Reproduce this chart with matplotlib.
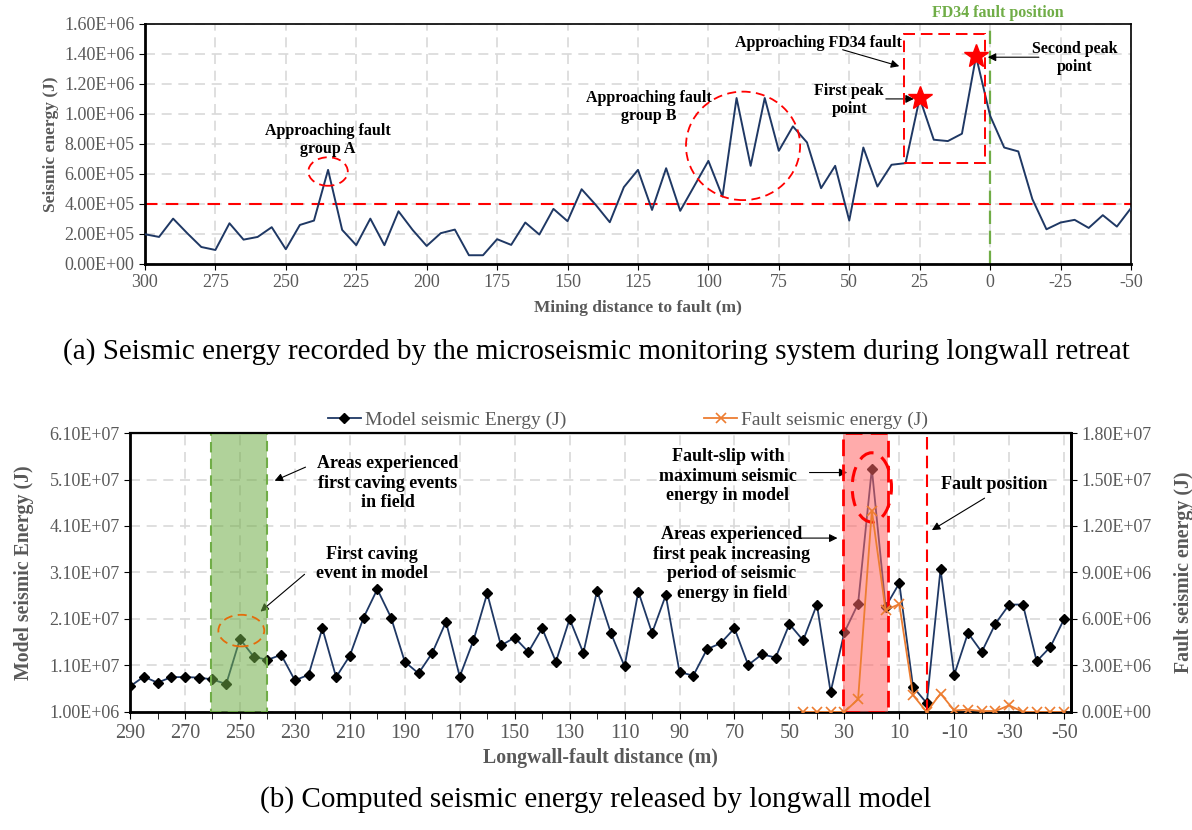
import numpy as np
import matplotlib.pyplot as plt
from matplotlib.patches import Ellipse, Rectangle
from matplotlib.ticker import FuncFormatter
from matplotlib.lines import Line2D

plt.rcParams['font.family'] = ['Liberation Serif', 'DejaVu Serif']

GRAY = '#595959'
NAVY = '#1F3864'
ORANGE = '#ED7D31'
GREEN = '#70AD47'
RED = '#FF0000'
GRID = '#D9D9D9'

# (a) microseismic energy, every 5 m from 300 m to -50 m
field_dist = np.arange(300, -51, -5)
field_energy = np.array([
    198, 180, 302, 205, 113, 93, 271, 162, 180, 245,
    98, 260, 289, 627, 227, 125, 302, 125, 351, 227,
    120, 205, 229, 58, 58, 165, 127, 276, 196, 367,
    285, 498, 394, 278, 512, 627, 360, 638, 354, 520,
    687, 449, 1106, 654, 1106, 754, 917, 810, 505, 654,
    289, 776, 516, 661, 672, 1106, 828, 819, 868, 1384,
    988, 776, 750, 432, 231, 276, 294, 240, 325, 249,
    372]) * 1e3
peak_dist = [25, 5]
peak_energy = [1106e3, 1384e3]

# (b) model energy, every 5 m from 290 m to -50 m
model_dist = np.arange(290, -51, -5)
model_energy = np.array([
    6.5, 8.6, 7.3, 8.5, 8.5, 8.4, 8.0, 7.0, 16.7, 12.9,
    12.2, 13.3, 7.8, 9.0, 19.0, 8.5, 13.1, 21.3, 27.4, 21.3,
    11.8, 9.3, 13.7, 20.4, 8.6, 16.4, 26.5, 15.3, 17.0, 13.9,
    19.0, 11.8, 21.0, 13.7, 27.1, 18.0, 10.8, 26.9, 18.0, 26.1,
    9.6, 8.8, 14.5, 15.8, 19.0, 11.1, 13.4, 12.7, 19.9, 16.4,
    24.1, 5.3, 18.1, 24.3, 53.3, 23.6, 28.7, 6.4, 2.9, 31.7,
    9.0, 18.0, 13.9, 20.0, 24.1, 24.1, 11.9, 15.0, 21.0]) * 1e6
fault_dist = np.arange(45, -51, -5)
fault_energy = np.array([
    0, 0, 0, 0, 0.82, 13.0, 6.57, 6.96, 1.08, 0,
    1.19, 0.10, 0.15, 0.06, 0.06, 0.43, 0, 0, 0, 0]) * 1e6

sci = FuncFormatter(lambda v, p: f'{v:.2E}')


def style_axes(ax):
    for s in ['left', 'bottom']:
        ax.spines[s].set_linewidth(2)
    for s in ['top', 'right']:
        ax.spines[s].set_linewidth(1.2)
    ax.tick_params(colors='black', labelcolor=GRAY, direction='out', length=4)
    ax.grid(True, color=GRID, linestyle=(0, (6, 4)), linewidth=1.2)
    ax.set_axisbelow(True)


fig = plt.figure(figsize=(11.92, 8.3), dpi=100)

# ---------------- (a) ----------------
ax1 = fig.add_axes([0.1216, 0.682, 0.8272, 0.2892])
style_axes(ax1)
ax1.plot(field_dist, field_energy, color=NAVY, lw=1.4, zorder=3)
ax1.plot(peak_dist, peak_energy, '*', color=RED, ms=18, zorder=4)
ax1.axhline(4e5, color=RED, lw=1.5, ls=(0, (6, 4)), zorder=2)
ax1.plot([0, 0], [0, 1.6e6], color=GREEN, lw=1.6, ls=(0, (6, 3)), zorder=2)
ax1.add_patch(Rectangle((30.5, 6.7e5), -28.7, 8.6e5, fill=False, ec=RED,
                        lw=1.4, ls=(0, (6, 3)), zorder=4))
ax1.add_patch(Ellipse((235, 6.16e5), 14, 1.9e5, fill=False, ec=RED,
                      lw=1.3, ls=(0, (5, 3)), zorder=4))
ax1.add_patch(Ellipse((87.7, 7.87e5), 40.5, 7.23e5, fill=False, ec=RED,
                      lw=1.3, ls=(0, (5, 3)), zorder=4))
ax1.set_xlim(300, -50)
ax1.set_ylim(0, 1.6e6)
ax1.set_xticks(np.arange(300, -51, -25))
ax1.set_xticklabels([str(v) for v in np.arange(300, -51, -25)])
ax1.set_yticks(np.arange(0, 1.61e6, 2e5))
ax1.yaxis.set_major_formatter(sci)
ax1.tick_params(labelsize=13)
ax1.set_xlabel('Mining distance to fault (m)', fontsize=12.5, fontweight='bold',
               color=GRAY, labelpad=6)
ax1.set_ylabel('Seismic energy (J)', fontsize=12.5, fontweight='bold',
               color=GRAY, labelpad=4)

bold = dict(fontweight='bold', fontsize=11.5, ha='center', va='center')
ax1.text(235, 8.27e5, 'Approaching fault\ngroup A', **bold)
ax1.text(121, 1.047e6, 'Approaching fault\ngroup B', **bold)
ax1.text(61, 1.473e6, 'Approaching FD34 fault', **bold)
ax1.text(50, 1.093e6, 'First peak\npoint', **bold)
ax1.text(-30, 1.373e6, 'Second peak\npoint', **bold)
ax1.text(-2.9, 1.671e6, 'FD34 fault position', color=GREEN, clip_on=False, **bold)
arr = dict(arrowstyle='-|>', color='black', lw=0.8, mutation_scale=12)
ax1.annotate('', xy=(31.3, 1.313e6), xytext=(53.3, 1.433e6), arrowprops=arr)
ax1.annotate('', xy=(26.1, 1.10e6), xytext=(38, 1.10e6), arrowprops=arr)
ax1.annotate('', xy=(1.8, 1.378e6), xytext=(-18.3, 1.378e6), arrowprops=arr)

fig.text(0.5, 1 - 352 / 830, '(a) Seismic energy recorded by the microseismic monitoring '
         'system during longwall retreat', ha='center', va='center', fontsize=21)

# ---------------- (b) ----------------
ax = fig.add_axes([0.1091, 0.1422, 0.7894, 0.3361])
style_axes(ax)
ax.spines['right'].set_linewidth(2)
ax.spines['top'].set_linewidth(1.6)
ax.plot(model_dist, model_energy, color=NAVY, lw=1.3, marker='D', ms=5.5,
        mfc='black', mec='black', zorder=3, label='Model seismic Energy (J)')
ax.set_xlim(290, -52.5)
ax.set_ylim(1e6, 6.1e7)
major = np.arange(290, -51, -20)
ax.set_xticks(major)
ax.set_xticklabels([str(v) for v in major])
ax.set_xticks(np.arange(280, -41, -20), minor=True)
ax.tick_params(axis='x', which='both', length=5, labelsize=14.5)
ax.set_yticks(np.arange(1e6, 6.2e7, 1e7))
ax.yaxis.set_major_formatter(sci)
ax.tick_params(axis='y', labelsize=13)
ax.set_xlabel('Longwall-fault distance (m)', fontsize=14.3, fontweight='bold',
              color=GRAY, labelpad=4)
ax.set_ylabel('Model seismic Energy (J)', fontsize=14.3, fontweight='bold',
              color=GRAY, labelpad=11)

# shaded areas
ax.axvspan(260.5, 240, color=GREEN, alpha=0.55, lw=0, zorder=5)
ax.add_patch(Rectangle((260.5, 1e6), -20.5, 6e7, fill=False, ec=GREEN, lw=1.5,
                       ls=(0, (5, 3)), zorder=6))
ax.axvspan(30.5, 14, color='#FF6666', alpha=0.55, lw=0, zorder=5)
ax.add_patch(Rectangle((30.5, 1e6), -16.5, 6e7, fill=False, ec=RED, lw=2,
                       ls=(0, (6, 3)), zorder=6))
ax.plot([0, 0], [1e6, 6.1e7], color=RED, lw=1.5, ls=(0, (6, 3)), zorder=6)
ax.add_patch(Ellipse((20, 4.93e7), 14.3, 1.49e7, fill=False, ec=RED, lw=2.2,
                     ls=(0, (5, 3)), zorder=6))
ax.add_patch(Ellipse((249.5, 1.85e7), 16.7, 6.8e6, fill=False, ec='#E46C0A',
                     lw=1.3, ls=(0, (5, 3)), zorder=6))

ax2 = ax.twinx()
ax2.plot(fault_dist, fault_energy, color=ORANGE, lw=1.3, marker='x', ms=7,
         mew=1.2, zorder=3, label='Fault seismic energy (J)')
ax2.set_ylim(0, 1.8e7)
ax2.set_yticks(np.arange(0, 1.81e7, 3e6))
ax2.yaxis.set_major_formatter(sci)
ax2.tick_params(axis='y', labelsize=13, labelcolor=GRAY, direction='out', length=4)
ax2.spines['right'].set_linewidth(2)
ax2.set_ylabel('Fault seismic energy (J)', fontsize=14.3, fontweight='bold',
               color=GRAY, labelpad=16)

bold_b = dict(fontweight='bold', fontsize=13, ha='center', va='center', zorder=8)
ax.text(196.3, 5.02e7, 'Areas experienced\nfirst caving events\nin field', **bold_b)
ax.text(202.1, 3.28e7, 'First caving\nevent in model', **bold_b)
ax.text(72.4, 5.17e7, 'Fault-slip with\nmaximum seismic\nenergy in model', **bold_b)
ax.text(71, 3.28e7, 'Areas experienced\nfirst peak increasing\nperiod of seismic\n'
        'energy in field', **bold_b)
ax.text(-24.5, 5.0e7, 'Fault position', **bold_b)
ax.annotate('', xy=(238.3, 5.05e7), xytext=(225.2, 5.39e7), arrowprops=arr)
ax.annotate('', xy=(243.3, 2.22e7), xytext=(225.7, 3.10e7), arrowprops=arr)
ax.annotate('', xy=(27.9, 5.25e7), xytext=(43.7, 5.25e7), arrowprops=arr)
ax.annotate('', xy=(31.5, 3.84e7), xytext=(47.9, 3.84e7), arrowprops=arr)
ax.annotate('', xy=(-1.0, 3.98e7), xytext=(-21.9, 4.73e7), arrowprops=arr)

handles = [Line2D([], [], color=NAVY, lw=1.3, marker='D', ms=5.5, mfc='black', mec='black'),
           Line2D([], [], color=ORANGE, lw=1.3, marker='x', ms=7, mew=1.2)]
leg = fig.legend(handles, ['Model seismic Energy (J)', 'Fault seismic energy (J)'],
                 loc='center', bbox_to_anchor=(628 / 1192, 1 - 420 / 830), ncol=2,
                 frameon=False, fontsize=14, handlelength=1.7, handletextpad=0.2,
                 columnspacing=7.1)
for t in leg.get_texts():
    t.set_color(GRAY)

fig.text(0.5, 1 - 800 / 830, '(b) Computed seismic energy released by longwall model',
         ha='center', va='center', fontsize=21)

fig.savefig('out.png', dpi=100)
